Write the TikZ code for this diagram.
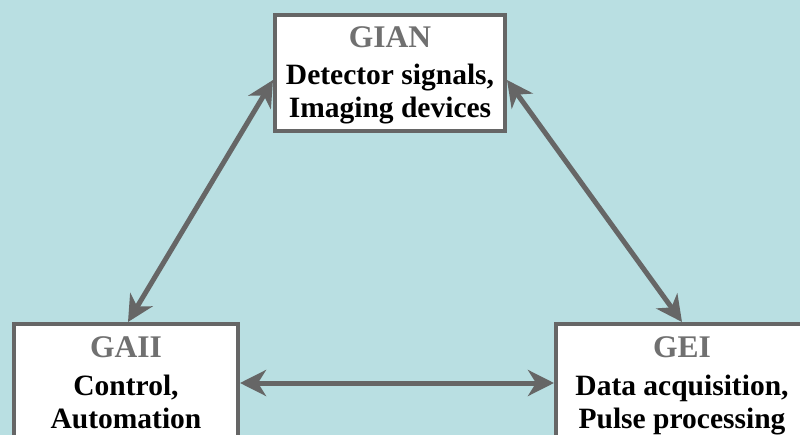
\documentclass[tikz,border=0pt]{standalone}
\usepackage{fontspec}
\setmainfont{Liberation Serif}
\usetikzlibrary{arrows.meta}
\definecolor{bgc}{RGB}{185,223,226}
\definecolor{edgec}{RGB}{102,102,102}
\definecolor{ttlc}{RGB}{112,112,112}
\begin{document}
\begin{tikzpicture}[x=1pt,y=1pt,
  box/.style={draw=edgec,line width=4pt,fill=white,rectangle,inner sep=0pt},
  ttl/.style={text=ttlc,font=\fontsize{31.5}{31.5}\selectfont\bfseries,anchor=base,inner sep=0pt},
  body/.style={text=black,font=\fontsize{29.5}{29.5}\selectfont\bfseries,anchor=base,inner sep=0pt},
  arr/.style={draw=edgec,line width=5pt,{Stealth[length=26pt,width=26pt,inset=8pt]}-{Stealth[length=26pt,width=26pt,inset=8pt]}}]
\useasboundingbox (0,0) rectangle (800,-435);
\clip (0,0) rectangle (800,-435);
\fill[bgc] (0,0) rectangle (800,-435);
\node[box,minimum width=230pt,minimum height=116pt] (gian) at (390,-73) {};
\node[box,minimum width=224pt,minimum height=156pt] (gaii) at (126,-402) {};
\node[box,minimum width=284pt,minimum height=156pt] (gei) at (698,-402) {};
\node[ttl] (gianT) at (390,-48) {GIAN};
\node[body] (gianA) at (390,-85) {Detector signals,};
\node[body] (gianB) at (390,-118) {Imaging devices};
\node[ttl] (gaiiT) at (126,-357) {GAII};
\node[body] (gaiiA) at (126,-395) {Control,};
\node[body] (gaiiB) at (126,-428) {Automation};
\node[ttl] (geiT) at (682,-357) {GEI};
\node[body] (geiA) at (682,-395) {Data acquisition,};
\node[body] (geiB) at (682,-428) {Pulse processing};
\draw[arr] ([yshift=-7pt]gian.west) -- ([xshift=2pt]gaii.north);
\draw[arr] ([yshift=-7pt]gian.east) -- ([xshift=-16pt]gei.north);
\draw[arr] ([yshift=19pt]gaii.east) -- ([yshift=19pt]gei.west);
\end{tikzpicture}
\end{document}
